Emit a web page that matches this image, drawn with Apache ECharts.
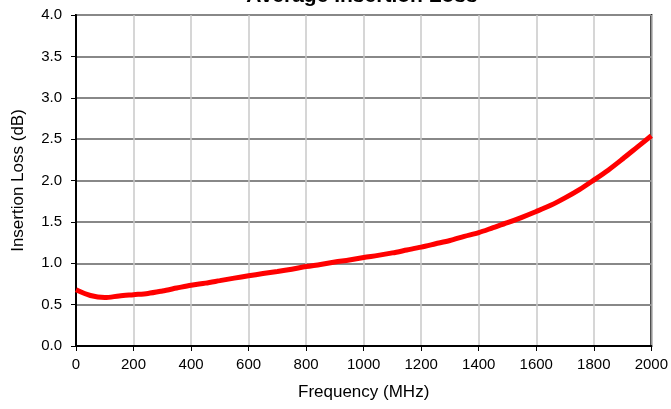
<!DOCTYPE html>
<html>
<head>
<meta charset="utf-8">
<script src="https://cdn.jsdelivr.net/npm/echarts@6/dist/echarts.min.js"></script>
<style>
html, body { margin: 0; padding: 0; background: #fff; }
#chart { width: 671px; height: 409px; }
</style>
</head>
<body>
<div id="chart"></div>
<script>
// Measured average insertion loss versus frequency
const freqMHz = [0, 50, 100, 150, 200, 250, 300, 350, 400, 450, 500, 550, 600, 650, 700, 750, 800, 850, 900, 950,
  1000, 1050, 1100, 1150, 1200, 1250, 1300, 1350, 1400, 1450, 1500, 1550, 1600, 1650, 1700, 1750, 1800, 1850, 1900, 1950, 2000];
const lossDb = [0.68, 0.61, 0.585, 0.605, 0.62, 0.635, 0.665, 0.70, 0.735, 0.76, 0.79, 0.82, 0.848, 0.875, 0.90, 0.928, 0.96, 0.985, 1.015, 1.04,
  1.07, 1.095, 1.125, 1.16, 1.195, 1.235, 1.275, 1.325, 1.37, 1.43, 1.49, 1.555, 1.625, 1.70, 1.79, 1.89, 2.005, 2.125, 2.26, 2.40, 2.54];
const xTicks = { min: 0, max: 2000, step: 200 };
const yTicks = { min: 0, max: 4, step: 0.5 };

const chart = echarts.init(document.getElementById('chart'), null, { renderer: 'canvas' });
const font = 'Liberation Sans, Arial, sans-serif';

chart.setOption({
  animation: false,
  backgroundColor: '#ffffff',
  title: {
    text: 'Average Insertion Loss',
    left: 362, textAlign: 'center',
    top: -14, padding: 0,
    textStyle: { fontFamily: font, fontSize: 21, fontWeight: 'bold', color: '#000' }
  },
  grid: {
    left: 76, right: 18, top: 15, bottom: 63,
    show: true, borderColor: '#000', borderWidth: 2, backgroundColor: 'transparent'
  },
  xAxis: {
    type: 'value',
    min: xTicks.min, max: xTicks.max, interval: xTicks.step,
    name: 'Frequency (MHz)', nameLocation: 'middle', nameGap: 38,
    nameTextStyle: { fontFamily: font, fontSize: 17, color: '#000' },
    axisLine: { show: true, onZero: false, lineStyle: { color: '#000', width: 2 } },
    axisTick: { show: true, length: 5, lineStyle: { color: '#000', width: 1 } },
    axisLabel: { fontFamily: font, fontSize: 15, color: '#000', margin: 11,
      formatter: v => String(v) },
    splitLine: { show: true, lineStyle: { color: '#c8c8c8', width: 1.5 } }
  },
  yAxis: {
    type: 'value',
    min: yTicks.min, max: yTicks.max, interval: yTicks.step,
    name: 'Insertion Loss (dB)', nameLocation: 'middle', nameGap: 49, nameRotate: 90,
    nameTextStyle: { fontFamily: font, fontSize: 17, color: '#000' },
    axisLine: { show: true, lineStyle: { color: '#000', width: 2 } },
    axisTick: { show: true, length: 5, lineStyle: { color: '#000', width: 1 } },
    axisLabel: { fontFamily: font, fontSize: 15, color: '#000', margin: 14,
      formatter: v => v.toFixed(1) },
    splitLine: { show: true, lineStyle: { color: '#888888', width: 2 } }
  },
  series: [{
    type: 'line',
    data: freqMHz.map((f, i) => [f, lossDb[i]]),
    smooth: 0.3,
    showSymbol: false,
    clip: false,
    lineStyle: { color: '#ff0000', width: 5 }
  }]
});
</script>
</body>
</html>
